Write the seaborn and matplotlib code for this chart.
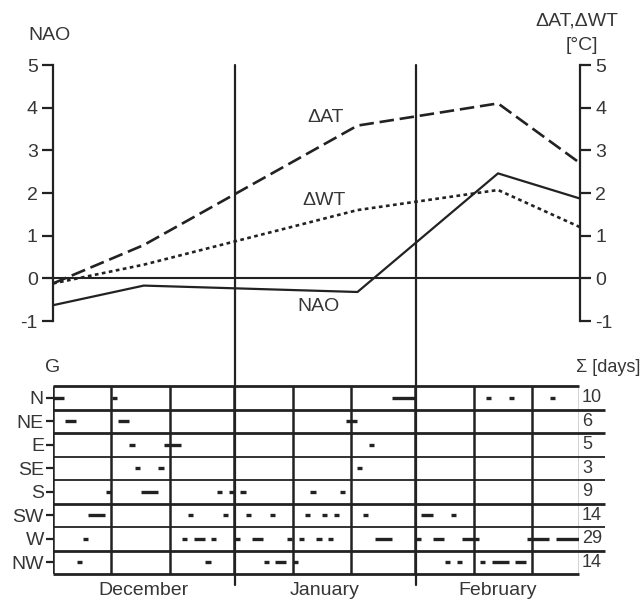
import matplotlib
matplotlib.use("Agg")
import matplotlib.pyplot as plt
import seaborn as sns
import pandas as pd
from matplotlib.lines import Line2D
from matplotlib.transforms import blended_transform_factory

# top panel: days counted from 1 December
days = [0, 15.5, 52, 76, 90]
nao = [-0.63, -0.17, -0.32, 2.46, 1.87]
d_at = [-0.12, 0.78, 3.58, 4.1, 2.7]
d_wt = [-0.12, 0.32, 1.6, 2.07, 1.2]

# bottom panel: circulation types, each run = (first day, number of days)
gtypes = ['N', 'NE', 'E', 'SE', 'S', 'SW', 'W', 'NW']
runs_N = [(0, 2), (10, 1), (58, 4), (74, 1), (78, 1), (85, 1)]
runs_NE = [(2, 2), (11, 2), (50, 2)]
runs_E = [(13, 1), (19, 3), (54, 1)]
runs_SE = [(14, 1), (18, 1), (52, 1)]
runs_S = [(9, 1), (15, 3), (28, 1), (30, 1), (32, 1), (44, 1), (49, 1)]
runs_SW = [(6, 3), (23, 1), (29, 1), (33, 1), (37, 1), (43, 1), (46, 1),
           (48, 1), (53, 1), (63, 2), (68, 1)]
runs_W = [(5, 1), (22, 1), (24, 2), (27, 1), (31, 1), (34, 2), (40, 1),
          (42, 1), (45, 1), (47, 1), (55, 3), (62, 1), (65, 2), (70, 3),
          (81, 4), (86, 4)]
runs_NW = [(4, 1), (26, 1), (36, 1), (38, 2), (41, 1), (67, 1), (69, 1),
           (73, 1), (75, 3), (79, 2)]
totals = [10, 6, 5, 3, 9, 14, 29, 14]
decades = [0, 10, 20, 31, 41, 51, 62, 72, 82, 90]
month_edges = [0, 31, 62, 90]
months = ['December', 'January', 'February']

sns.set_style("white")
plt.rcParams['font.family'] = ['Liberation Sans', 'DejaVu Sans']
plt.rcParams['axes.unicode_minus'] = False
txt = '#363636'
ink = '#222222'
fs = 14

W, H = 644, 602
fig = plt.figure(figsize=(6.44, 6.02), dpi=100)
ax = fig.add_axes([53 / W, 1 - 321 / H, 527 / W, 256 / H])
axg = fig.add_axes([53 / W, 1 - 574 / H, 526 / W, 188 / H])

# ---- top: NAO and temperature anomalies
df = pd.DataFrame({'day': days, 'NAO': nao, 'dAT': d_at, 'dWT': d_wt})
sns.lineplot(data=df, x='day', y='dAT', ax=ax, color=ink, lw=1.9,
             linestyle=(0, (5.5, 2.2)))
sns.lineplot(data=df, x='day', y='dWT', ax=ax, color=ink, lw=1.9,
             linestyle=(0, (1.4, 1.3)))
sns.lineplot(data=df, x='day', y='NAO', ax=ax, color=ink, lw=1.6)
ax.axhline(0, color=ink, lw=1.5)

ax.set_xlim(0, 90)
ax.set_ylim(-1, 5)
ax.set_yticks(range(-1, 6))
ax.set_xticks([])
ax.set_xlabel('')
ax.set_ylabel('')
for s in ['top', 'bottom']:
    ax.spines[s].set_visible(False)
for s in ['left', 'right']:
    ax.spines[s].set_color(ink)
    ax.spines[s].set_linewidth(1.6)
ax.tick_params(axis='y', left=True, right=True, labelleft=True, labelright=True,
               direction='out', length=8, width=1.6, color=ink, pad=3,
               labelsize=fs, labelcolor=txt)
ax.patch.set_alpha(0)

ax.text(46.5, 3.76, 'ΔAT', ha='center', va='center', fontsize=fs, color=txt)
ax.text(46.3, 1.83, 'ΔWT', ha='center', va='center', fontsize=fs, color=txt)
ax.text(45.3, -0.66, 'NAO', ha='center', va='center', fontsize=fs, color=txt)

fig.text(50 / W, 1 - 35 / H, 'NAO', ha='center', va='center', fontsize=fs, color=txt)
fig.text(577 / W, 1 - 21 / H, 'ΔAT,ΔWT', ha='center', va='center', fontsize=fs, color=txt)
fig.text(582 / W, 1 - 46 / H, '[°C]', ha='center', va='center', fontsize=fs, color=txt)

# ---- bottom: daily circulation types
axg.set_xlim(0, 90)
axg.set_ylim(8, 0)
all_runs = [runs_N, runs_NE, runs_E, runs_SE, runs_S, runs_SW, runs_W, runs_NW]
for i, runs in enumerate(all_runs):
    for start, n in runs:
        axg.hlines(i + 0.5, start + 0.05, start + n - 0.05, color=ink, lw=2.4)

thick_rows = [1, 2, 5, 7]
for r in range(9):
    end = 94.5 if 0 < r < 8 else 90
    axg.plot([0, end], [r, r], color=ink, lw=2.0 if (r in thick_rows or r in (0, 8)) else 1.3,
             clip_on=False, solid_capstyle='butt')
for d in decades:
    axg.plot([d, d], [0, 8], color=ink, lw=1.0 if d == 90 else 1.8, solid_capstyle='butt')

for i, t in enumerate(totals):
    axg.text(90.5, i + 0.5, str(t), ha='left', va='center', fontsize=13, color=txt)
for k, m in enumerate(months):
    mid = (month_edges[k] + month_edges[k + 1]) / 2
    axg.text(mid, 8.72, m, ha='center', va='center', fontsize=fs, color=txt)

axg.set_yticks([i + 0.5 for i in range(len(gtypes))])
axg.set_yticklabels(gtypes)
axg.set_xticks([])
for s in axg.spines.values():
    s.set_visible(False)
axg.tick_params(axis='y', left=True, direction='out', length=5, width=1.6,
                color=ink, pad=1.5, labelsize=fs, labelcolor=txt)

fig.text(53 / W, 1 - 368 / H, 'G', ha='center', va='center', fontsize=fs, color=txt)
fig.text(640 / W, 1 - 368 / H, 'Σ [days]', ha='right', va='center', fontsize=13, color=txt)

# month boundaries run through both panels
trans = blended_transform_factory(ax.transData, fig.transFigure)
for d in month_edges[1:3]:
    fig.add_artist(Line2D([d, d], [1 - 65 / H, 1 - 585 / H], transform=trans,
                          color=ink, lw=1.6))

fig.savefig('out.png', dpi=100, facecolor='white')
